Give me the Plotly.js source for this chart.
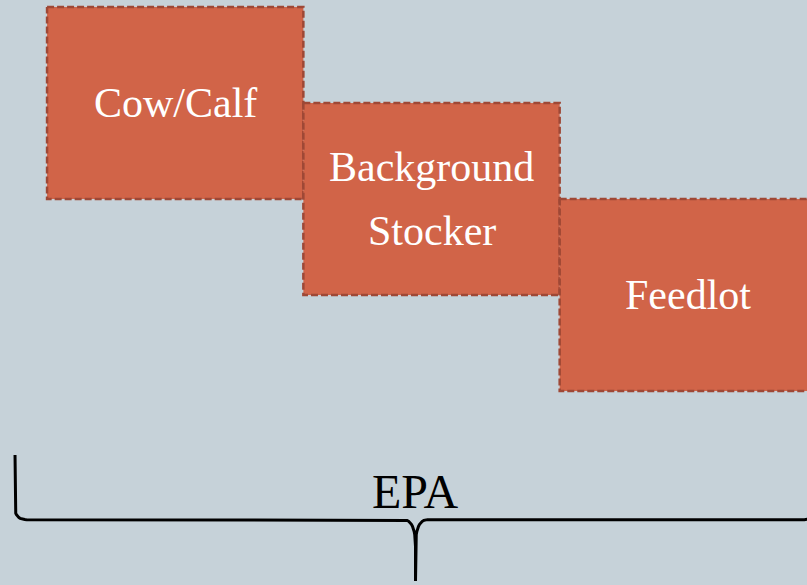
<!DOCTYPE html>
<html>
<head>
<meta charset="utf-8">
<script src="https://cdn.plot.ly/plotly-3.0.1.min.js"></script>
<style>html,body{margin:0;padding:0;background:#c6d2d9;}#chart{width:807px;height:585px;}</style>
</head>
<body>
<div id="chart"></div>
<script>
// Stages of the supply chain (x span in stage units, y span in box-height units)
const stageLines = [["Cow/Calf"], ["Background", "Stocker"], ["Feedlot"]];
const stageStart = [0, 1, 2];
const stageEnd = [1, 2, 3];
const stageTop = [0, 0.5, 1];
const stageBottom = [1, 1.5, 2];

// Brace spanning the stages
const braceLabel = "EPA";
const braceStart = -0.125;
const braceEnd = 3.0;
const braceTop = 2.333;
const braceMid = 2.67;
const braceTipY = 2.99;

const fillColor = "#d16448";
const edgeColor = "#9e4836";
const bgColor = "#c6d2d9";
const serif = "Liberation Serif, Times New Roman, serif";

const traces = [];
const annotations = [];

for (let i = 0; i < stageLines.length; i++) {
  const x0 = stageStart[i], x1 = stageEnd[i], y0 = stageTop[i], y1 = stageBottom[i];
  traces.push({
    type: "scatter", mode: "lines",
    x: [x0, x1, x1, x0, x0], y: [y0, y0, y1, y1, y0],
    fill: "toself", fillcolor: fillColor,
    line: {color: edgeColor, width: 2.5, dash: "7px,3px"},
    hoverinfo: "skip", showlegend: false
  });
  const lines = stageLines[i];
  const cx = (x0 + x1) / 2, cy = (y0 + y1) / 2;
  const spacing = 0.33;
  lines.forEach((t, k) => {
    annotations.push({
      x: cx, y: cy + (k - (lines.length - 1) / 2) * spacing,
      xref: "x", yref: "y", text: t, showarrow: false,
      xanchor: "center", yanchor: "middle",
      font: {family: serif, size: 42, color: "#ffffff"}
    });
  });
}

// Build brace curve
function quad(p0, c, p1, n, out) {
  for (let s = 1; s <= n; s++) {
    const t = s / n;
    out.push([(1-t)*(1-t)*p0[0] + 2*(1-t)*t*c[0] + t*t*p1[0],
              (1-t)*(1-t)*p0[1] + 2*(1-t)*t*c[1] + t*t*p1[1]]);
  }
}
const tipX = (braceStart + braceEnd) / 2;
const rx = 0.045, ry = 0.06, sx = 0.047, sy = 0.14;
const pts = [[braceStart, braceTop], [braceStart, braceMid - ry]];
quad([braceStart, braceMid - ry], [braceStart, braceMid], [braceStart + rx, braceMid], 12, pts);
pts.push([tipX - sx, braceMid]);
quad([tipX - sx, braceMid], [tipX, braceMid], [tipX, braceMid + sy], 12, pts);
pts.push([tipX, braceTipY]);
pts.push([tipX, braceMid + sy]);
quad([tipX, braceMid + sy], [tipX, braceMid], [tipX + sx, braceMid], 12, pts);
pts.push([braceEnd - rx, braceMid]);
quad([braceEnd - rx, braceMid], [braceEnd, braceMid], [braceEnd, braceMid - ry], 12, pts);
pts.push([braceEnd, braceTop]);

traces.push({
  type: "scatter", mode: "lines",
  x: pts.map(p => p[0]), y: pts.map(p => p[1]),
  line: {color: "#000000", width: 3, shape: "linear"},
  hoverinfo: "skip", showlegend: false
});

annotations.push({
  x: tipX, y: 2.525, xref: "x", yref: "y", text: braceLabel, showarrow: false,
  xanchor: "center", yanchor: "middle",
  font: {family: serif, size: 48, color: "#000000"}
});

const layout = {
  width: 807, height: 585,
  margin: {l: 0, r: 0, t: 0, b: 0, pad: 0},
  paper_bgcolor: bgColor, plot_bgcolor: bgColor,
  xaxis: {range: [-0.1836, 2.965], visible: false, fixedrange: true},
  yaxis: {range: [3.0104, -0.0365], visible: false, fixedrange: true},
  annotations: annotations,
  showlegend: false
};

Plotly.newPlot("chart", traces, layout, {displayModeBar: false, staticPlot: true});
</script>
</body>
</html>
